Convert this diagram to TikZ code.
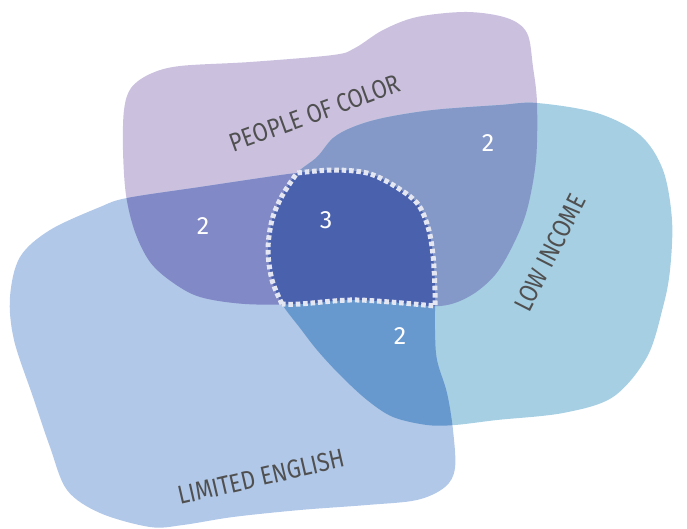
\documentclass[tikz,border=0pt]{standalone}
\usepackage{fontspec}
\setmainfont{Fira Sans}
\newfontfamily\labfont[FakeStretch=0.85]{Fira Sans}
\definecolor{cPoC}{HTML}{CBC1DF}
\definecolor{cLI}{HTML}{A6CFE3}
\definecolor{cLE}{HTML}{B1C8E8}
\definecolor{cPE}{HTML}{8189C6}
\definecolor{cPL}{HTML}{8599C9}
\definecolor{cLL}{HTML}{6899CE}
\definecolor{cAll}{HTML}{4A62AE}
\definecolor{cDot}{HTML}{E4E7F2}
\definecolor{cTxt}{HTML}{505050}
\begin{document}
\begin{tikzpicture}[x=1pt,y=-1pt,
  dotline/.style={draw=cDot,line width=5pt,dash pattern=on 4.6pt off 2.8pt},
  lab/.style={text=cTxt,font=\labfont\fontsize{26}{28}\selectfont,inner sep=0pt},
  num/.style={text=white,font=\fontsize{25}{27}\selectfont,inner sep=0pt}]
\useasboundingbox (0,0) rectangle (687,529);
\def\PoC{plot[smooth cycle,tension=0.55] coordinates {
 (123,150) (124,110) (131,88) (150,74) (180,66) (250,62) (333,55) (355,48)
 (383,30) (417,17) (467,12) (507,18) (527,33) (533,67) (537,103)
 (536,160) (527,210) (513,245) (495,275) (470,296) (440,306)
 (390,302) (350,300) (300,304) (245,304) (200,297) (172,282) (150,262)
 (135,232) (126,195)}}
\def\LI{plot[smooth cycle,tension=0.55] coordinates {
 (297,173) (317,157) (333,138) (353,127) (383,118) (433,110) (500,105)
 (537,103) (597,113) (640,135) (663,170) (672,220) (670,270) (663,307)
 (647,357) (613,397) (563,413) (497,420) (455,425) (427,425) (393,417)
 (367,400) (340,375) (317,350) (300,328) (282,304) (272,280) (268,250)
 (272,220) (282,196)}}
\def\LE{plot[smooth cycle,tension=0.55] coordinates {
 (10,297) (20,257) (50,230) (100,207) (127,198) (200,187) (267,177)
 (297,173) (333,170) (367,173) (393,185) (417,203) (428,227) (433,255)
 (435,290) (435,330) (437,360) (447,393) (453,430) (455,468) (445,487)
 (417,500) (367,505) (300,510) (233,517) (183,525) (150,527) (100,513)
 (67,490) (50,447) (33,397) (14,340)}}
\fill[cPoC] \PoC;
\fill[cLI] \LI;
\fill[cLE] \LE;
\begin{scope}
 \clip \PoC;
 \fill[cPL] \LI;
 \fill[cPE] \LE;
\end{scope}
\begin{scope}
 \clip \LI;
 \fill[cLL] \LE;
\end{scope}
\begin{scope}
 \clip \PoC; \clip \LI;
 \fill[cAll] \LE;
\end{scope}
% dotted outline of the triple overlap
\draw[dotline,line join=miter]
  plot[smooth,tension=0.55] coordinates {(282,304) (272,280) (268,250) (272,220) (282,196) (297,173)}
  -- plot[smooth,tension=0.55] coordinates {(297,173) (333,170) (367,173) (393,185) (417,203) (428,227) (433,255) (435,290) (435,306)}
  -- plot[smooth,tension=0.55] coordinates {(435,306) (390,302) (350,300) (300,304) (282,304)};
\node[lab,rotate=20] (tpoc) at (315,113) {PEOPLE OF COLOR};
\node[lab,rotate=63] (tli) at (550,253) {LOW INCOME};
\node[lab,rotate=13] (tle) at (261,477) {LIMITED ENGLISH};
\node[num] (n1) at (203,226) {2};
\node[num] (n2) at (326,220) {3};
\node[num] (n3) at (488,143) {2};
\node[num] (n4) at (400,336) {2};
\end{tikzpicture}
\end{document}
